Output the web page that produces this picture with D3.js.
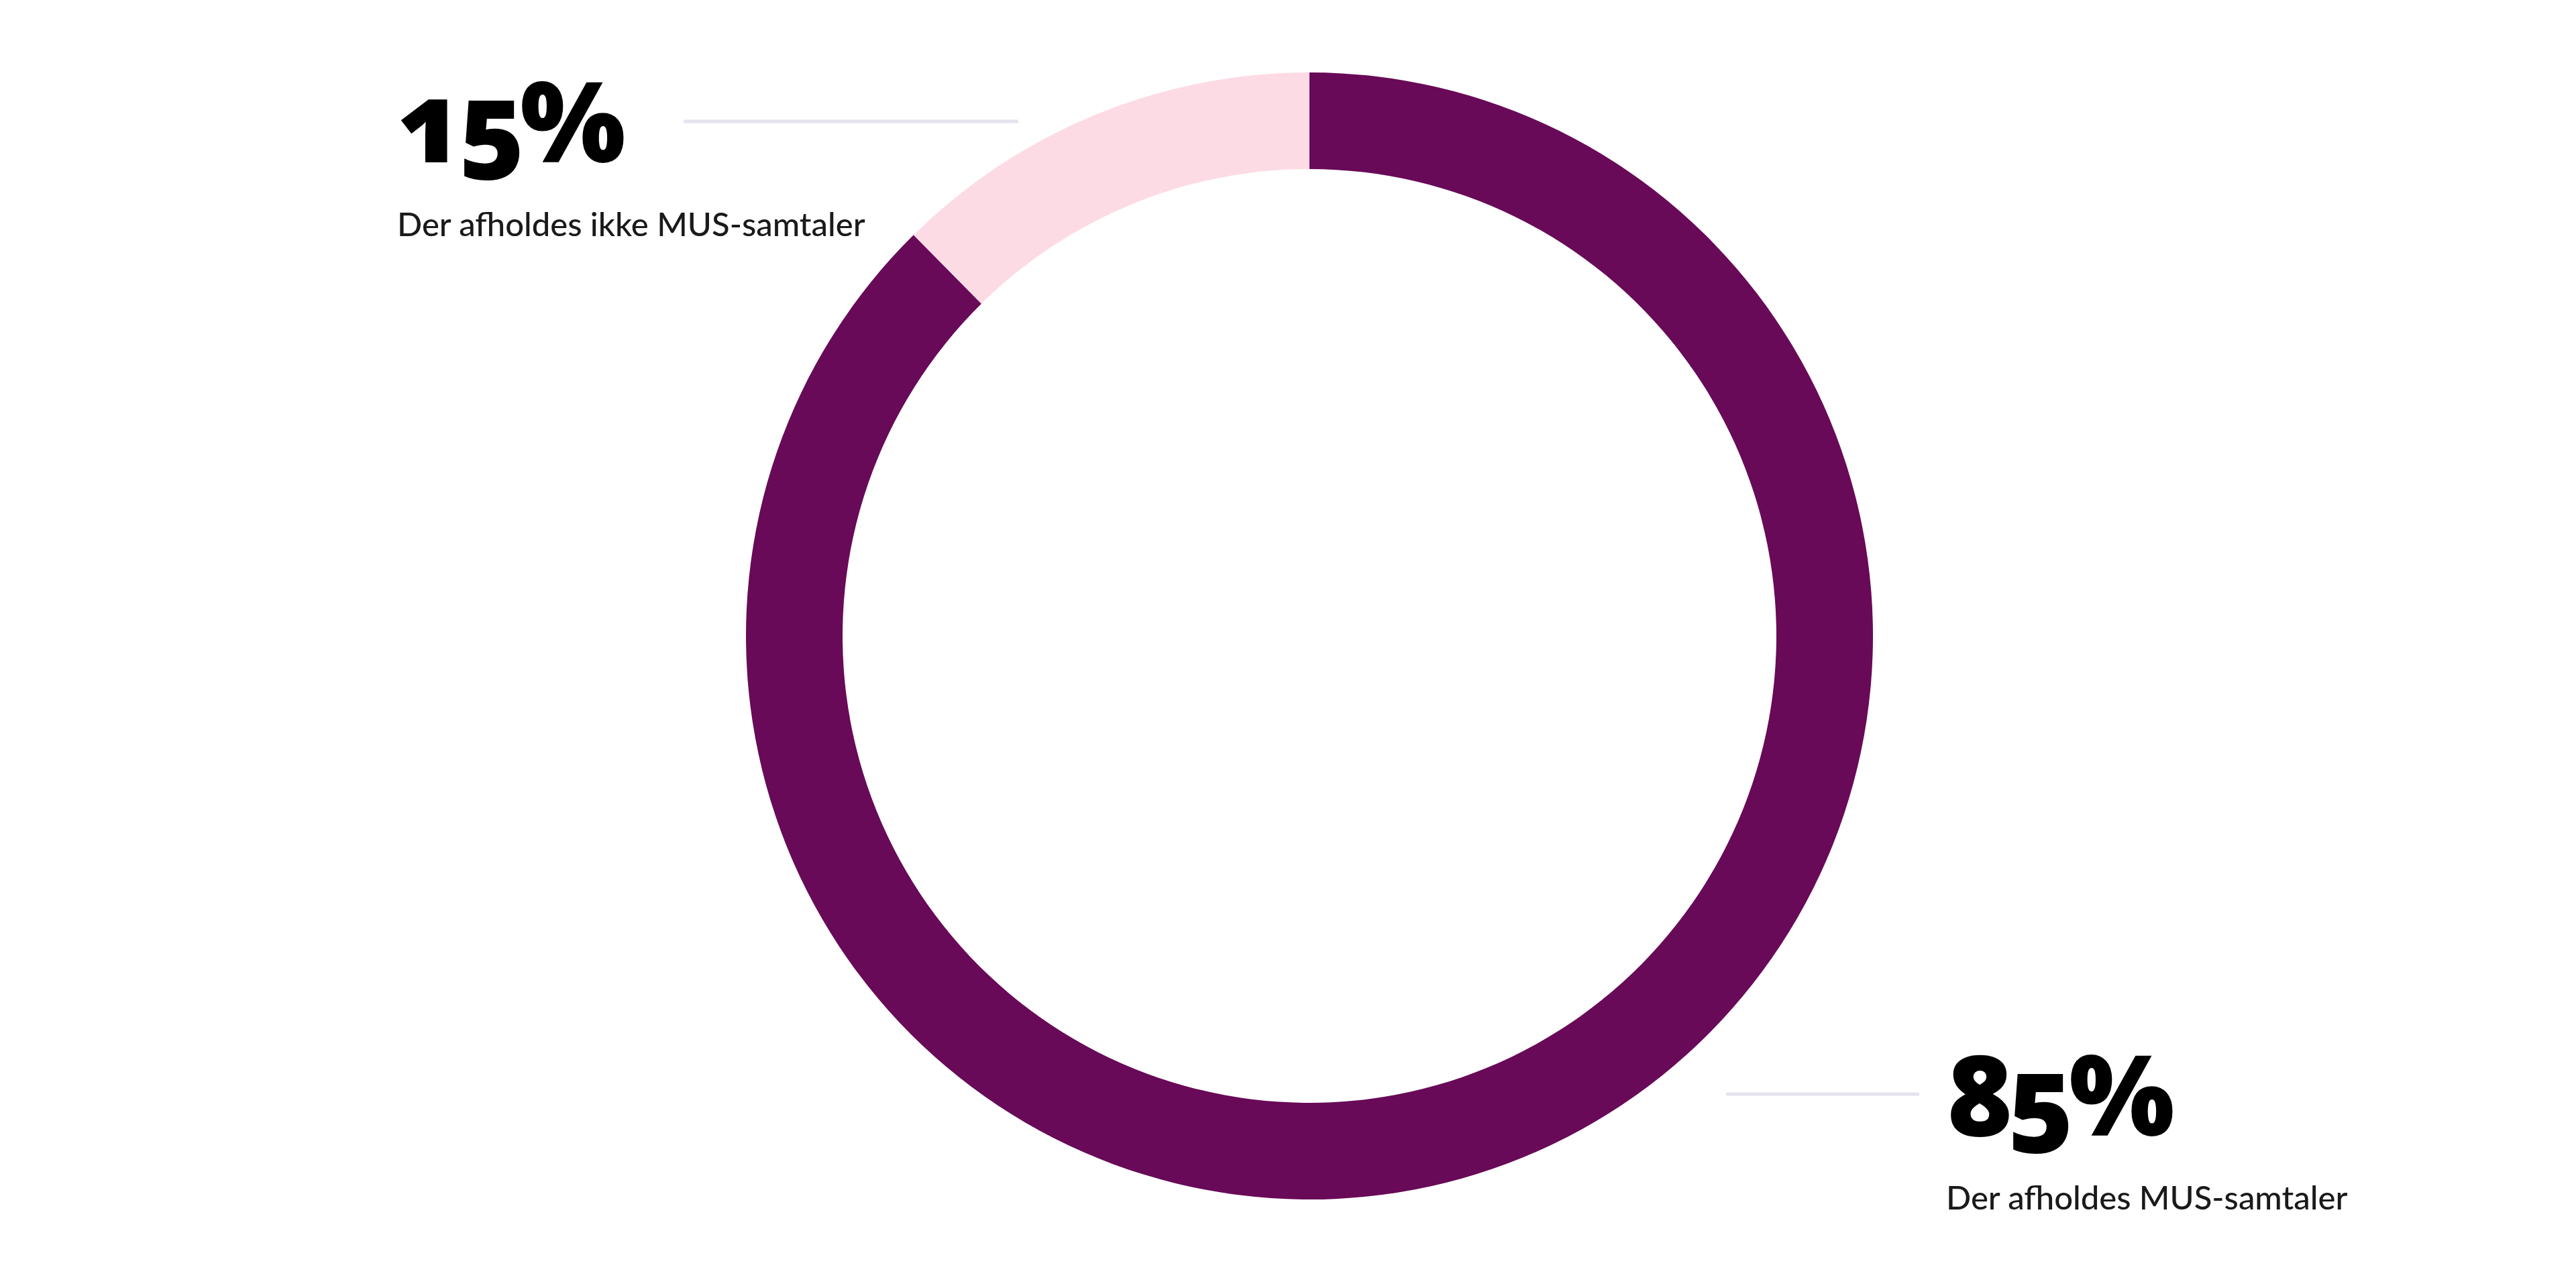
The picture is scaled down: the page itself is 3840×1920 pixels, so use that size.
<!DOCTYPE html>
<html>
<head>
<meta charset="utf-8">
<script src="https://cdn.jsdelivr.net/npm/d3@7"></script>
<style>
    html, body { margin: 0; padding: 0; background: #ffffff; }
</style>
</head>
<body>
<mus-donut></mus-donut>
<script>
// shares as they sit on the ring, and the labels printed
const categories = ["Der afholdes MUS-samtaler", "Der afholdes ikke MUS-samtaler"];
const ringShares = [87.6, 12.4];
const valueLabels = ["85%", "15%"];
const colors = ["#680a57", "#fddbe5"];

class MusDonut extends HTMLElement {

    constructor() {
        super();
        this.attachShadow({ mode: "open" });
        this.render()
        this.d3_logic()
    }

    d3_logic() {
        const wSvg = 3840, hSvg = 1920;
        const cx = 1952, cy = 948;
        const rOuter = 840, rInner = 696;

        const svg = d3.select(this.shadowRoot)
                    .select("svg")
                    .attr("width", wSvg)
                    .attr("height", hSvg);

        const rows = categories.map((c, i) => ({name: c, share: ringShares[i], label: valueLabels[i], color: colors[i]}));

        const pie = d3.pie()
                    .sort(null)
                    .value(d => d.share);

        const arc = d3.arc()
                    .innerRadius(rInner)
                    .outerRadius(rOuter);

        svg.append("g")
            .attr("transform", `translate(${cx},${cy})`)
            .selectAll("path")
            .data(pie(rows))
            .enter()
            .append("path")
            .attr("d", arc)
            .attr("fill", d => d.data.color);

        // callouts: leader line ends, its y, text x, number baseline
        const callouts = [
            {x1: 2573, x2: 2861, y: 1631, tx: 2901, base: 1693},
            {x1: 1019, x2: 1518, y: 181, tx: 592, base: 242}
        ];

        const g = svg.append("g")
            .selectAll("g")
            .data(rows)
            .enter()
            .append("g");

        g.append("line")
            .attr("x1", (d, i) => callouts[i].x1)
            .attr("x2", (d, i) => callouts[i].x2)
            .attr("y1", (d, i) => callouts[i].y)
            .attr("y2", (d, i) => callouts[i].y)
            .attr("stroke", "#e3e4ef")
            .attr("stroke-width", 5);

        g.append("text")
            .attr("class", "big")
            .attr("x", (d, i) => callouts[i].tx)
            .attr("y", (d, i) => callouts[i].base)
            .text(d => d.label);

        g.append("text")
            .attr("class", "desc")
            .attr("x", (d, i) => callouts[i].tx)
            .attr("y", (d, i) => callouts[i].base + 110)
            .text(d => d.name);
    }

    render() {

        this.shadowRoot.innerHTML = `
            <style>
                svg { display: block; }
                .big {
                    font-family: "Noto Sans", sans-serif;
                    font-weight: 900;
                    font-size: 166px;
                    letter-spacing: -9px;
                    font-variant-numeric: oldstyle-nums;
                    fill: #000000;
                }
                .desc {
                    font-family: Lato, sans-serif;
                    font-weight: 500;
                    font-size: 49px;
                    fill: #1a1a1a;
                }
            </style>
            <svg id="donut"></svg>
        `
    }
}

customElements.define("mus-donut", MusDonut);
</script>
</body>
</html>
